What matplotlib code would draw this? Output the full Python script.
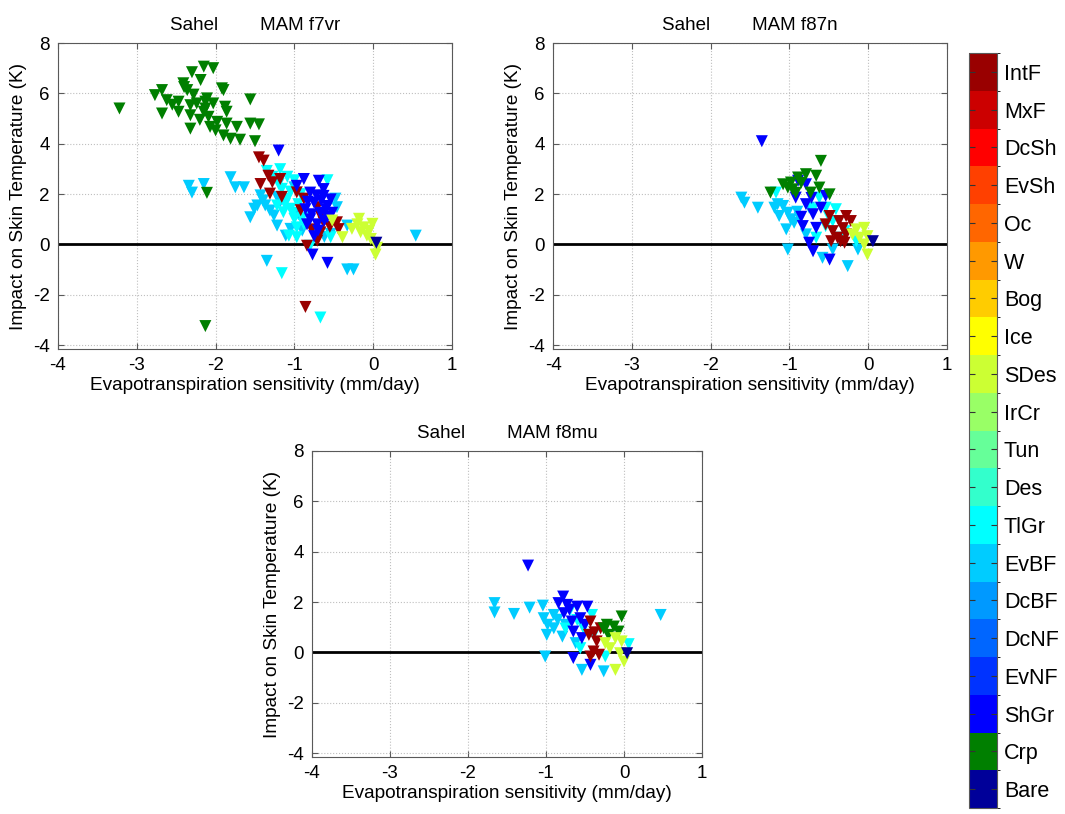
import matplotlib
matplotlib.use("Agg")
import matplotlib.pyplot as plt
from matplotlib.colors import ListedColormap, BoundaryNorm
import numpy as np

plt.rcParams['font.family'] = ['Liberation Sans', 'DejaVu Sans']
plt.rcParams['axes.unicode_minus'] = False

# ---- land-cover classes (colorbar, bottom -> top) ----
classes = ['Bare', 'Crp', 'ShGr', 'EvNF', 'DcNF', 'DcBF', 'EvBF', 'TlGr', 'Des', 'Tun',
           'IrCr', 'SDes', 'Ice', 'Bog', 'W', 'Oc', 'EvSh', 'DcSh', 'MxF', 'IntF']
class_colors = ['#000099', '#007f00', '#0000ff', '#0033ff', '#0066ff', '#0099ff', '#00ccff',
                '#00ffff', '#33ffcc', '#66ff99', '#99ff66', '#ccff33', '#ffff00', '#ffcc00',
                '#ff9900', '#ff6600', '#ff4000', '#ff0000', '#cc0000', '#990000']

panel_titles = ['Sahel        MAM f7vr', 'Sahel        MAM f87n', 'Sahel        MAM f8mu']
xlabel = 'Evapotranspiration sensitivity (mm/day)'
ylabel = 'Impact on Skin Temperature (K)'
x_ticks = [-4, -3, -2, -1, 0, 1]
y_ticks = [-4, -2, 0, 2, 4, 6, 8]

# ---- panel 1: f7vr ----
f7vr_EvBF_x = [-2.34, -2.30, -2.15, -1.81, -1.75, -1.64, -1.56, -1.47, -1.51, -1.43, -1.37, -1.31,
               -1.22, -1.11, -1.05, -1.35, -0.54, -0.46, -0.33, -0.33, -0.25, 0.54, -0.48, -1.22, -1.00,
               -1.26, -1.18, -1.40, -0.95, -0.90, -0.62, -0.70]
f7vr_EvBF_y = [2.33, 2.06, 2.40, 2.67, 2.27, 2.27, 1.08, 1.55, 1.42, 1.95, 1.55, 1.35,
               0.75, 0.35, 0.62, -0.65, 0.42, 1.48, 0.75, -0.99, -0.99, 0.35, 1.82, 1.89, 2.27,
               1.15, 1.70, 1.75, 1.20, 0.55, 0.30, 0.45]
f7vr_TlGr_x = [-1.35, -1.18, -1.28, -1.09, -1.00, -1.16, -1.09, -1.05, -1.00, -0.97, -1.07, -0.97,
               -1.14, -0.88, -0.58, -1.16, -0.67, -1.22, -0.80, -0.54,
               -1.05, -1.12, -0.95, -1.02, -0.90, -1.20, -0.92]
f7vr_TlGr_y = [2.92, 2.99, 2.69, 2.69, 2.55, 2.21, 1.82, 1.42, 1.02, 0.68, 0.35, 0.29,
               1.28, 0.81, 2.55, -1.14, -2.90, 1.55, -0.05, 0.29,
               2.10, 1.60, 1.60, 1.25, 1.05, 2.40, 2.00]
f7vr_IntF_x = [-1.45, -1.39, -1.33, -1.43, -1.28, -1.18, -1.31, -1.16, -0.92, -0.88, -0.97, -0.71,
               -0.67, -0.46, -0.44, -0.67, -0.71, -0.84, -0.86, -0.63, -0.78, -0.55]
f7vr_IntF_y = [3.46, 3.33, 2.73, 2.40, 2.47, 2.60, 2.02, 1.89, 1.36, 1.82, 2.07, 1.48,
               1.15, 0.88, 0.61, 0.48, 0.15, -0.05, -2.48, 0.88, 0.60, 0.70]
f7vr_ShGr_x = [-1.20, -0.88, -0.69, -0.97, -0.80, -0.63, -0.75, -0.58, -0.67, -0.80, -0.58, -0.71,
               -0.84, -0.54, -0.75, -0.77, -0.58, -0.63, -0.86, -0.52,
               -0.72, -0.66, -0.78, -0.62, -0.70, -0.83, -0.60]
f7vr_ShGr_y = [3.73, 2.60, 2.53, 2.33, 2.06, 1.93, 1.66, 1.53, 1.26, 1.00, 1.09, 0.80,
               0.80, 1.79, 0.33, -0.40, -0.73, 2.20, 1.40, 1.26,
               1.95, 1.75, 1.20, 0.95, 0.55, 1.70, 1.40]
f7vr_SDes_x = [-0.18, -0.01, -0.27, -0.16, -0.08, -0.39, 0.05, 0.03, -0.03, -0.12, -0.52, -0.05, -0.20]
f7vr_SDes_y = [1.02, 0.82, 0.62, 0.49, 0.35, 0.29, -0.13, -0.40, 0.22, 0.68, 0.95, 0.55, 0.80]
f7vr_Crp_x = [-3.22, -2.15, -2.03, -2.30, -2.41, -2.19, -2.77, -2.68, -2.62, -2.68, -2.47, -2.36,
              -2.32, -2.47, -2.32, -2.24, -2.11, -2.13, -2.03, -2.09, -1.92, -1.90, -1.56, -1.88,
              -1.86, -1.98, -2.32, -2.00, -1.86, -1.73, -1.90, -1.81, -1.69, -1.56, -1.45, -1.50,
              -2.11, -2.13, -2.15, -2.07, -2.13, -2.40, -2.55, -2.20, -2.28]
f7vr_Crp_y = [5.40, 7.06, 7.00, 6.84, 6.40, 6.53, 5.93, 6.13, 5.73, 5.20, 5.67, 6.13,
              5.53, 5.27, 5.13, 5.60, 5.80, 5.40, 5.60, 5.07, 6.20, 6.13, 5.76, 5.47,
              5.27, 4.87, 4.60, 4.53, 4.80, 4.67, 4.33, 4.20, 4.16, 4.80, 4.77, 4.10,
              2.05, -3.24, 5.27, 4.67, 5.67, 6.25, 5.55, 4.95, 5.95]
f7vr_Bare_x = [0.04]
f7vr_Bare_y = [0.07]

# ---- panel 2: f87n ----
f87n_EvBF_x = [-1.61, -1.57, -1.40, -1.19, -1.08, -1.02, -1.04, -0.94, -1.02, -0.87, -0.79, -0.58,
               -0.26, -0.45, -0.13, -0.75, -1.13, -1.15, -0.98, -0.90]
f87n_EvBF_y = [1.86, 1.66, 1.46, 1.46, 1.53, 1.26, 0.60, 0.86, -0.20, 1.06, 0.40, -0.53,
               -0.86, -0.20, -0.20, 1.46, 1.13, 1.60, 1.00, 1.30]
f87n_TlGr_x = [-0.62, -0.54, -0.41, -0.45, -0.30, -0.66, -0.37, -0.54, -0.15, -1.17, -0.70, -0.50]
f87n_TlGr_y = [1.86, 1.46, 1.40, 0.93, 0.53, 0.27, 0.27, 0.73, 0.13, 2.06, 1.40, 1.10]
f87n_ShGr_x = [-1.35, -0.89, -0.79, -0.92, -0.79, -0.70, -0.83, -0.54, -0.66, -0.70, -0.49, -0.60, -0.75,
               -0.85, -0.72]
f87n_ShGr_y = [4.10, 2.53, 2.39, 1.86, 1.60, 1.20, 0.73, 1.93, 0.66, -0.27, -0.60, 1.46, 0.07,
               1.10, 1.85]
f87n_Crp_x = [-0.60, -1.24, -1.08, -1.02, -0.96, -0.89, -0.79, -0.66, -0.73, -0.62, -0.49, -0.98,
              -0.85, -0.92]
f87n_Crp_y = [3.32, 2.06, 2.39, 2.26, 2.19, 2.66, 2.79, 2.73, 2.06, 2.26, 1.99, 2.46,
              2.45, 2.05]
f87n_IntF_x = [-0.49, -0.37, -0.28, -0.45, -0.39, -0.35, -0.28, -0.22, -0.47, -0.30, -0.54, -0.32]
f87n_IntF_y = [1.13, 0.93, 1.13, 0.53, 0.27, 0.13, 0.40, 0.93, 0.13, 0.07, 0.80, 0.65]
f87n_SDes_x = [-0.15, -0.05, -0.11, -0.01, -0.05, -0.01, -0.20]
f87n_SDes_y = [0.60, 0.66, 0.27, 0.33, 0.00, -0.40, 0.40]
f87n_Bare_x = [0.06]
f87n_Bare_y = [0.13]

# ---- panel 3: f8mu ----
f8mu_EvBF_x = [-1.66, -1.66, -1.41, -1.21, -1.04, -1.03, -0.99, -0.90, -0.79, -0.75, -1.01, -0.54,
               -0.26, 0.47, -0.62, -0.90, -0.98, -0.85]
f8mu_EvBF_y = [1.96, 1.59, 1.53, 1.78, 1.86, 1.36, 0.70, 0.96, 0.63, 1.10, -0.16, -0.69,
               -0.75, 1.49, 0.37, 1.49, 1.10, 1.30]
f8mu_TlGr_x = [-0.69, -0.60, -0.41, -0.52, -0.39, -0.56, 0.06, -0.24, -0.75]
f8mu_TlGr_y = [1.69, 1.29, 1.49, 0.96, 0.70, 0.17, 0.33, -0.16, 0.95]
f8mu_ShGr_x = [-1.23, -0.78, -0.84, -0.73, -0.60, -0.47, -0.77, -0.67, -0.56, -0.65, -0.54, -0.65, -0.43,
               -0.70, -0.50]
f8mu_ShGr_y = [3.45, 2.22, 1.96, 1.89, 1.82, 1.82, 1.56, 1.23, 1.36, 0.83, 0.57, -0.22, -0.49,
               1.70, 1.10]
f8mu_IntF_x = [-0.43, -0.30, -0.45, -0.35, -0.39, -0.43, -0.32, -0.38]
f8mu_IntF_y = [1.23, 0.96, 0.70, 0.44, 0.04, -0.16, -0.09, 0.80]
f8mu_Crp_x = [-0.03, -0.22, -0.13, -0.20, -0.07, -0.26]
f8mu_Crp_y = [1.43, 1.10, 1.03, 0.70, 0.83, 0.96]
f8mu_SDes_x = [-0.11, -0.03, -0.18, -0.05, -0.11, 0.00, -0.24]
f8mu_SDes_y = [0.57, 0.44, 0.17, -0.03, -0.69, -0.36, 0.37]
f8mu_Bare_x = [0.04]
f8mu_Bare_y = [-0.03]

panels = [
    [('EvBF', f7vr_EvBF_x, f7vr_EvBF_y), ('TlGr', f7vr_TlGr_x, f7vr_TlGr_y),
     ('IntF', f7vr_IntF_x, f7vr_IntF_y), ('ShGr', f7vr_ShGr_x, f7vr_ShGr_y),
     ('SDes', f7vr_SDes_x, f7vr_SDes_y), ('Crp', f7vr_Crp_x, f7vr_Crp_y),
     ('Bare', f7vr_Bare_x, f7vr_Bare_y)],
    [('EvBF', f87n_EvBF_x, f87n_EvBF_y), ('TlGr', f87n_TlGr_x, f87n_TlGr_y),
     ('ShGr', f87n_ShGr_x, f87n_ShGr_y), ('Crp', f87n_Crp_x, f87n_Crp_y),
     ('IntF', f87n_IntF_x, f87n_IntF_y), ('SDes', f87n_SDes_x, f87n_SDes_y),
     ('Bare', f87n_Bare_x, f87n_Bare_y)],
    [('EvBF', f8mu_EvBF_x, f8mu_EvBF_y), ('TlGr', f8mu_TlGr_x, f8mu_TlGr_y),
     ('ShGr', f8mu_ShGr_x, f8mu_ShGr_y), ('IntF', f8mu_IntF_x, f8mu_IntF_y),
     ('Crp', f8mu_Crp_x, f8mu_Crp_y), ('SDes', f8mu_SDes_x, f8mu_SDes_y),
     ('Bare', f8mu_Bare_x, f8mu_Bare_y)],
]

W, H = 1065, 814
fig = plt.figure(figsize=(W / 100, H / 100), dpi=100)

def frac(l, t, r, b):
    return [l / W, 1 - b / H, (r - l) / W, (b - t) / H]

axes_px = [(58, 43, 452, 349), (553, 43, 947, 349), (312, 451, 702, 757)]
frame_col = '0.35'
for (l, t, r, b), title, series in zip(axes_px, panel_titles, panels):
    ax = fig.add_axes(frac(l, t, r, b))
    ax.set_xlim(-4, 1)
    ax.set_ylim(-4.15, 8)
    ax.set_xticks(x_ticks)
    ax.set_yticks(y_ticks)
    ax.grid(True, linestyle=':', color='0.75', linewidth=0.8)
    ax.set_axisbelow(True)
    ax.axhline(0, color='black', linewidth=2, zorder=1.5)
    for name, xs, ys in series:
        ax.scatter(xs, ys, marker='v', s=75, color=class_colors[classes.index(name)],
                   edgecolors='none', zorder=3)
    ax.tick_params(direction='in', top=True, right=True, length=4, labelsize=13.5,
                   color=frame_col, pad=6)
    for sp in ax.spines.values():
        sp.set_color(frame_col)
        sp.set_linewidth(0.8)
    ax.set_title(title, fontsize=13.5, pad=9)
    ax.set_xlabel(xlabel, fontsize=13.7, labelpad=2)
    ax.set_ylabel(ylabel, fontsize=13.7, labelpad=4)

# ---- colorbar ----
cax = fig.add_axes(frac(969, 53, 997, 808))
cmap = ListedColormap(class_colors)
norm = BoundaryNorm(np.arange(len(classes) + 1) - 0.5, cmap.N)
sm = plt.cm.ScalarMappable(cmap=cmap, norm=norm)
cb = fig.colorbar(sm, cax=cax, ticks=np.arange(len(classes)))
cb.ax.set_yticklabels(classes)
cb.ax.tick_params(direction='in', left=True, right=True, length=4, labelsize=15.5,
                  color='0.2', pad=5, width=0.8)
cb.outline.set_edgecolor(frame_col)
cb.outline.set_linewidth(0.8)

fig.savefig('out.png', dpi=100)
